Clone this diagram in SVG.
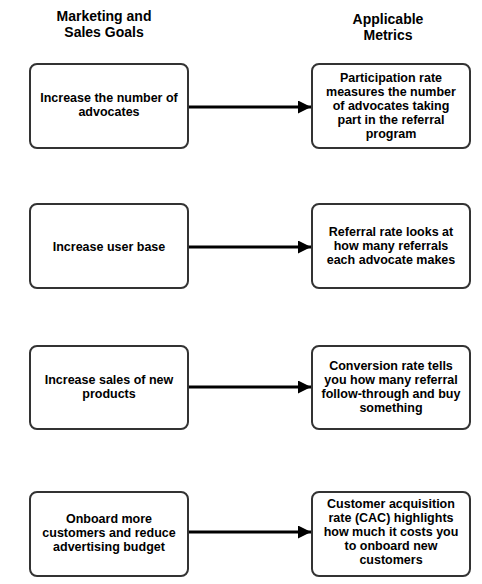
<svg xmlns="http://www.w3.org/2000/svg" width="482" height="584" viewBox="0 0 482 584">
<style>
.box{fill:#fff;stroke:#333;stroke-width:2}
.t{font-family:"Liberation Sans",Arial,sans-serif;font-weight:bold;font-size:12.5px;fill:#000;text-anchor:middle}
.h{font-family:"Liberation Sans",Arial,sans-serif;font-weight:bold;font-size:14px;fill:#000;text-anchor:middle}
.c{stroke:#000;stroke-width:3;fill:none}
</style>
<defs>
<marker id="arr" markerUnits="userSpaceOnUse" markerWidth="14" markerHeight="14" refX="13" refY="6.5" orient="auto">
<path d="M0,0 L13,6.5 L0,13 Z" fill="#000"/>
</marker>
</defs>
<g id="header-goals"><text class="h" x="104" y="21">Marketing and</text><text class="h" x="104" y="37">Sales Goals</text></g>
<g id="header-metrics"><text class="h" x="388" y="24">Applicable</text><text class="h" x="388" y="40">Metrics</text></g>
<g id="connectors">
<line class="c" x1="188" y1="107" x2="311" y2="107" marker-end="url(#arr)"/>
<line class="c" x1="188" y1="247" x2="311" y2="247" marker-end="url(#arr)"/>
<line class="c" x1="188" y1="387" x2="311" y2="387" marker-end="url(#arr)"/>
<line class="c" x1="188" y1="532" x2="311" y2="532" marker-end="url(#arr)"/>
</g>
<g id="goal1"><rect class="box" x="30" y="64" width="158" height="84" rx="7"/><text class="t" x="109" y="102">Increase the number of</text><text class="t" x="109" y="116">advocates</text></g>
<g id="metric1"><rect class="box" x="312" y="64" width="158" height="84" rx="7"/><text class="t" x="391" y="82">Participation rate</text><text class="t" x="391" y="96">measures the number</text><text class="t" x="391" y="110">of advocates taking</text><text class="t" x="391" y="124">part in the referral</text><text class="t" x="391" y="138">program</text></g>
<g id="goal2"><rect class="box" x="30" y="204" width="158" height="84" rx="7"/><text class="t" x="109" y="251">Increase user base</text></g>
<g id="metric2"><rect class="box" x="312" y="204" width="158" height="84" rx="7"/><text class="t" x="391" y="236">Referral rate looks at</text><text class="t" x="391" y="250">how many referrals</text><text class="t" x="391" y="264">each advocate makes</text></g>
<g id="goal3"><rect class="box" x="30" y="346" width="158" height="83" rx="7"/><text class="t" x="109" y="384">Increase sales of new</text><text class="t" x="109" y="398">products</text></g>
<g id="metric3"><rect class="box" x="312" y="346" width="158" height="83" rx="7"/><text class="t" x="391" y="370">Conversion rate tells</text><text class="t" x="391" y="384">you how many referral</text><text class="t" x="391" y="398">follow-through and buy</text><text class="t" x="391" y="412">something</text></g>
<g id="goal4"><rect class="box" x="30" y="492" width="158" height="84" rx="7"/><text class="t" x="109" y="523">Onboard more</text><text class="t" x="109" y="537">customers and reduce</text><text class="t" x="109" y="551">advertising budget</text></g>
<g id="metric4"><rect class="box" x="312" y="492" width="158" height="84" rx="7"/><text class="t" x="391" y="508">Customer acquisition</text><text class="t" x="391" y="522">rate (CAC) highlights</text><text class="t" x="391" y="536">how much it costs you</text><text class="t" x="391" y="550">to onboard new</text><text class="t" x="391" y="564">customers</text></g>
</svg>
